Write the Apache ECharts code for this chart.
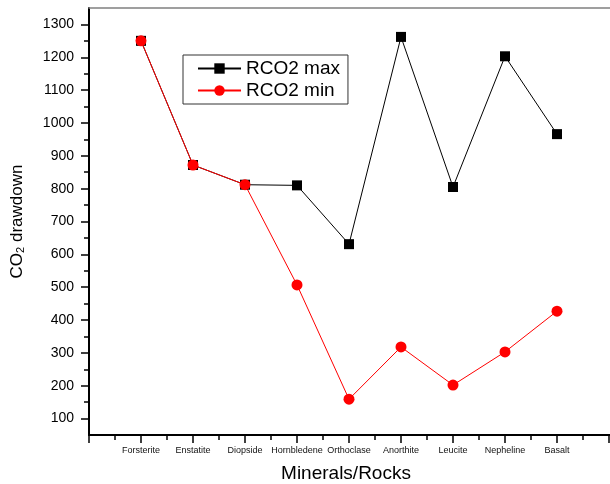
<!DOCTYPE html>
<html>
<head>
<meta charset="utf-8">
<script src="https://cdn.jsdelivr.net/npm/echarts@6/dist/echarts.min.js"></script>
<style>
html,body{margin:0;padding:0;background:#fff;}
#chart{width:610px;height:484px;}
</style>
</head>
<body>
<div id="chart"></div>
<script>
const categories = ['Forsterite', 'Enstatite', 'Diopside', 'Hornbledene', 'Orthoclase', 'Anorthite', 'Leucite', 'Nepheline', 'Basalt'];
const xPositions = [1, 2, 3, 4, 5, 6, 7, 8, 9];
const rco2Max = [1250, 872, 812, 810, 631, 1262, 805, 1203, 966];
const rco2Min = [1250, 872, 812, 507, 159, 318, 202, 303, 427];
const yMajorTicks = [100, 200, 300, 400, 500, 600, 700, 800, 900, 1000, 1100, 1200, 1300];
const yMinorTicks = [150, 250, 350, 450, 550, 650, 750, 850, 950, 1050, 1150, 1250];

const FONT = 'Liberation Sans, Arial, sans-serif';
const chart = echarts.init(document.getElementById('chart'), null, {renderer: 'canvas'});

const option = {
  animation: false,
  backgroundColor: '#fff',
  textStyle: {fontFamily: FONT},
  grid: {left: 89, top: 8, width: 572, height: 427, containLabel: false, outerBoundsMode: 'none'},
  legend: {
    orient: 'vertical',
    left: 183, top: 55,
    padding: [4, 8, 4, 14],
    itemGap: 3,
    itemWidth: 43, itemHeight: 13,
    borderColor: '#333', borderWidth: 1,
    textStyle: {fontSize: 19, color: '#000', fontFamily: FONT},
    data: ['RCO2 max', 'RCO2 min']
  },
  graphic: [{
    type: 'text', x: 346, y: 474,
    style: {text: 'Minerals/Rocks', font: '19px ' + FONT, fill: '#000', textAlign: 'center', textVerticalAlign: 'middle'}
  }],
  xAxis: [{
    type: 'value', min: 0, max: 11, interval: 1, position: 'bottom',
    axisLine: {show: true, onZero: false, lineStyle: {color: '#000', width: 2}},
    axisTick: {show: true, length: 8, lineStyle: {color: '#000', width: 1.5}},
    minorTick: {show: true, splitNumber: 2, length: 5, lineStyle: {color: '#000', width: 1.5}},
    splitLine: {show: false},
    axisLabel: {
      margin: 11, fontSize: 9, color: '#111', fontFamily: FONT,
      formatter: v => (v >= 1 && v <= categories.length) ? categories[v - 1] : ''
    }
  }, {
    type: 'value', min: 0, max: 11, position: 'top',
    axisLine: {show: true, onZero: false, lineStyle: {color: '#808080', width: 1.5}},
    axisTick: {show: false}, axisLabel: {show: false}, splitLine: {show: false}
  }],
  yAxis: [{
    type: 'value', min: 50, max: 1350, interval: 50,
    axisLine: {show: true, onZero: false, lineStyle: {color: '#000', width: 2}},
    axisTick: {show: true, length: 8, customValues: yMajorTicks, lineStyle: {color: '#000', width: 1.5}},
    axisLabel: {show: true, margin: 15, fontSize: 14, color: '#000', fontFamily: FONT, customValues: yMajorTicks, formatter: v => String(v)},
    splitLine: {show: false},
    name: '{a|CO}{s|2}{a| drawdown}',
    nameLocation: 'middle', nameGap: 63, nameRotate: 90,
    nameTextStyle: {
      rich: {
        a: {fontSize: 17, color: '#000', fontFamily: FONT},
        s: {fontSize: 11, color: '#000', fontFamily: FONT, verticalAlign: 'bottom', padding: [6, 0, 0, 0]}
      }
    }
  }, {
    type: 'value', min: 50, max: 1350, interval: 50, position: 'left',
    axisLine: {show: false},
    axisTick: {show: true, length: 5, customValues: yMinorTicks, lineStyle: {color: '#000', width: 1.5}},
    axisLabel: {show: false}, splitLine: {show: false}
  }],
  series: [{
    name: 'RCO2 max', type: 'line',
    xAxisIndex: 0, yAxisIndex: 0,
    data: xPositions.map((x, i) => [x, rco2Max[i]]),
    symbol: 'rect', symbolSize: 10,
    lineStyle: {color: '#000', width: 1},
    itemStyle: {color: '#000'}
  }, {
    name: 'RCO2 min', type: 'line',
    xAxisIndex: 0, yAxisIndex: 0,
    data: xPositions.map((x, i) => [x, rco2Min[i]]),
    symbol: 'circle', symbolSize: 11,
    lineStyle: {color: '#ff0000', width: 1},
    itemStyle: {color: '#ff0000'}
  }]
};
chart.setOption(option);
</script>
</body>
</html>
